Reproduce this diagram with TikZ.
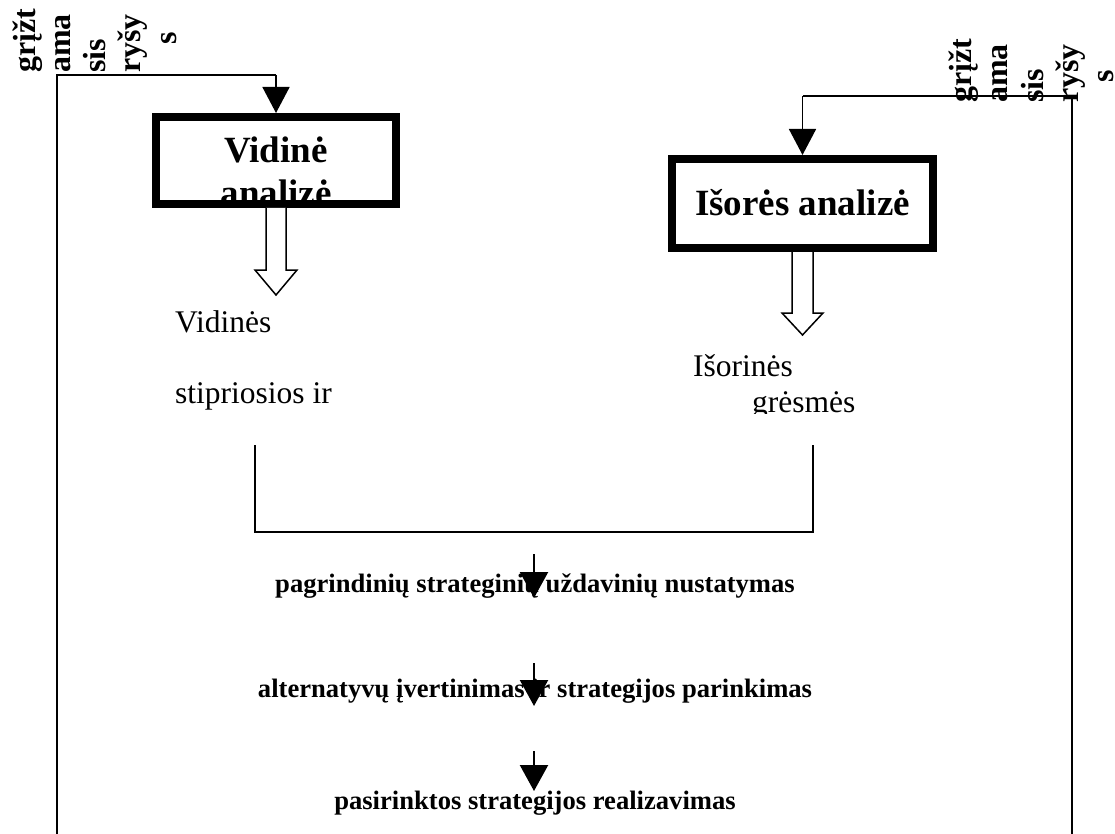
\documentclass[tikz,border=0pt]{standalone}
\usepackage{fontspec}
\setmainfont{Liberation Serif}
\usetikzlibrary{arrows.meta,calc}
\begin{document}
\begin{tikzpicture}[x=1pt,y=-1pt,
  line/.style={line width=1.6pt},
  feed/.style={line width=1.6pt,-{Triangle[length=26pt,width=27pt]}},
  stepar/.style={line width=2.2pt,-{Triangle[length=26pt,width=28pt]}},
  anbox/.style={draw,line width=8pt,inner sep=0pt},
  boxlbl/.style={font=\fontsize{37}{43}\selectfont\bfseries,inner sep=0pt,anchor=base},
  vert/.style={rotate=90,anchor=base west,inner sep=0pt,font=\fontsize{32}{36}\selectfont\bfseries},
  hollow/.style={draw,line width=1.5pt,fill=white,line join=miter},
  plain/.style={font=\fontsize{31.5}{36}\selectfont,inner sep=0pt,anchor=base west},
  steptxt/.style={font=\fontsize{26.6}{30}\selectfont\bfseries,inner sep=0pt,anchor=base}
]
\useasboundingbox (0,0) rectangle (1115,834);

% feedback labels, left
\node[vert] (fl1) at (35,73)  {grįžt};
\node[vert] (fl2) at (70,73)  {ama};
\node[vert] (fl3) at (105,73) {sis};
\node[vert] (fl4) at (140,73) {ryšy};
\node[vert] (fl5) at (176,45) {s};

% feedback labels, right
\node[vert] (fr1) at (971,103)  {grįžt};
\node[vert] (fr2) at (1007,103) {ama};
\node[vert] (fr3) at (1043,103) {sis};
\node[vert] (fr4) at (1078,103) {ryšy};
\node[vert] (fr5) at (1113,83)  {s};

% analysis boxes
\node[anbox,minimum width=240pt,minimum height=87pt] (vid) at (276,160.5) {};
\node[anbox,minimum width=261pt,minimum height=89pt] (isor) at (802.5,203.5) {};

\begin{scope}
  \clip ($(vid.north west)+(8,8)$) rectangle ($(vid.south east)+(-8,-8)$);
  \node[boxlbl] (vidt1) at (276,163) {Vidinė};
  \node[boxlbl] (vidt2) at (276,206) {analizė};
\end{scope}
\node[boxlbl] (isort) at (802.5,215) {Išorės analizė};

% feedback loops
\coordinate (lb) at (57,834);
\coordinate (lt) at (57,75);
\draw[line] (lb) -- (lt) -- (lt -| vid.north);
\draw[feed] (lt -| vid.north) -- (vid.north);

\coordinate (rb) at (1072,834);
\coordinate (rt) at (1072,96);
\draw[line] (rb) -- (rt) -- (rt -| isor.north);
\draw[feed] (rt -| isor.north) -- (isor.north);

% hollow arrows out of the boxes
\draw[hollow] ($(vid.south)+(-10,0)$) -- ++(0,62) -- ++(-11,0) -- ++(21,25)
  -- ++(21,-25) -- ++(-11,0) -- ++(0,-62);
\draw[hollow] ($(isor.south)+(-10.5,0)$) -- ++(0,61) -- ++(-10,0) -- ++(20.5,22)
  -- ++(20.5,-22) -- ++(-10,0) -- ++(0,-61);

% results of the analyses
\node[plain] (vs1) at (175,332) {Vidinės};
\node[plain] (vs2) at (175,403) {stipriosios ir};
\node[plain] (is1) at (693,376) {Išorinės};
\begin{scope}
  \clip (700,380) rectangle (900,413);
  \node[plain] (is2) at (752,412) {grėsmės};
\end{scope}

% bracket joining both results
\coordinate (bl) at (255,445);
\coordinate (br) at (813,445);
\draw[line,line width=2pt] (bl) -- (bl |- 0,532) -- (br |- 0,532) -- (br);

% strategy steps
\node[steptxt] (s1) at (535,592) {pagrindinių strateginių uždavinių nustatymas};
\node[steptxt] (s2) at (535,697) {alternatyvų įvertinimas ir strategijos parinkimas};
\node[steptxt] (s3) at (535,809) {pasirinktos strategijos realizavimas};

\coordinate (a1s) at (534,554); \coordinate (a1e) at (534,598);
\coordinate (a2s) at (534,663); \coordinate (a2e) at (534,706);
\coordinate (a3s) at (534,751); \coordinate (a3e) at (534,791);
\draw[stepar] (a1s) -- (a1e);
\draw[stepar] (a2s) -- (a2e);
\draw[stepar] (a3s) -- (a3e);
\end{tikzpicture}
\end{document}
